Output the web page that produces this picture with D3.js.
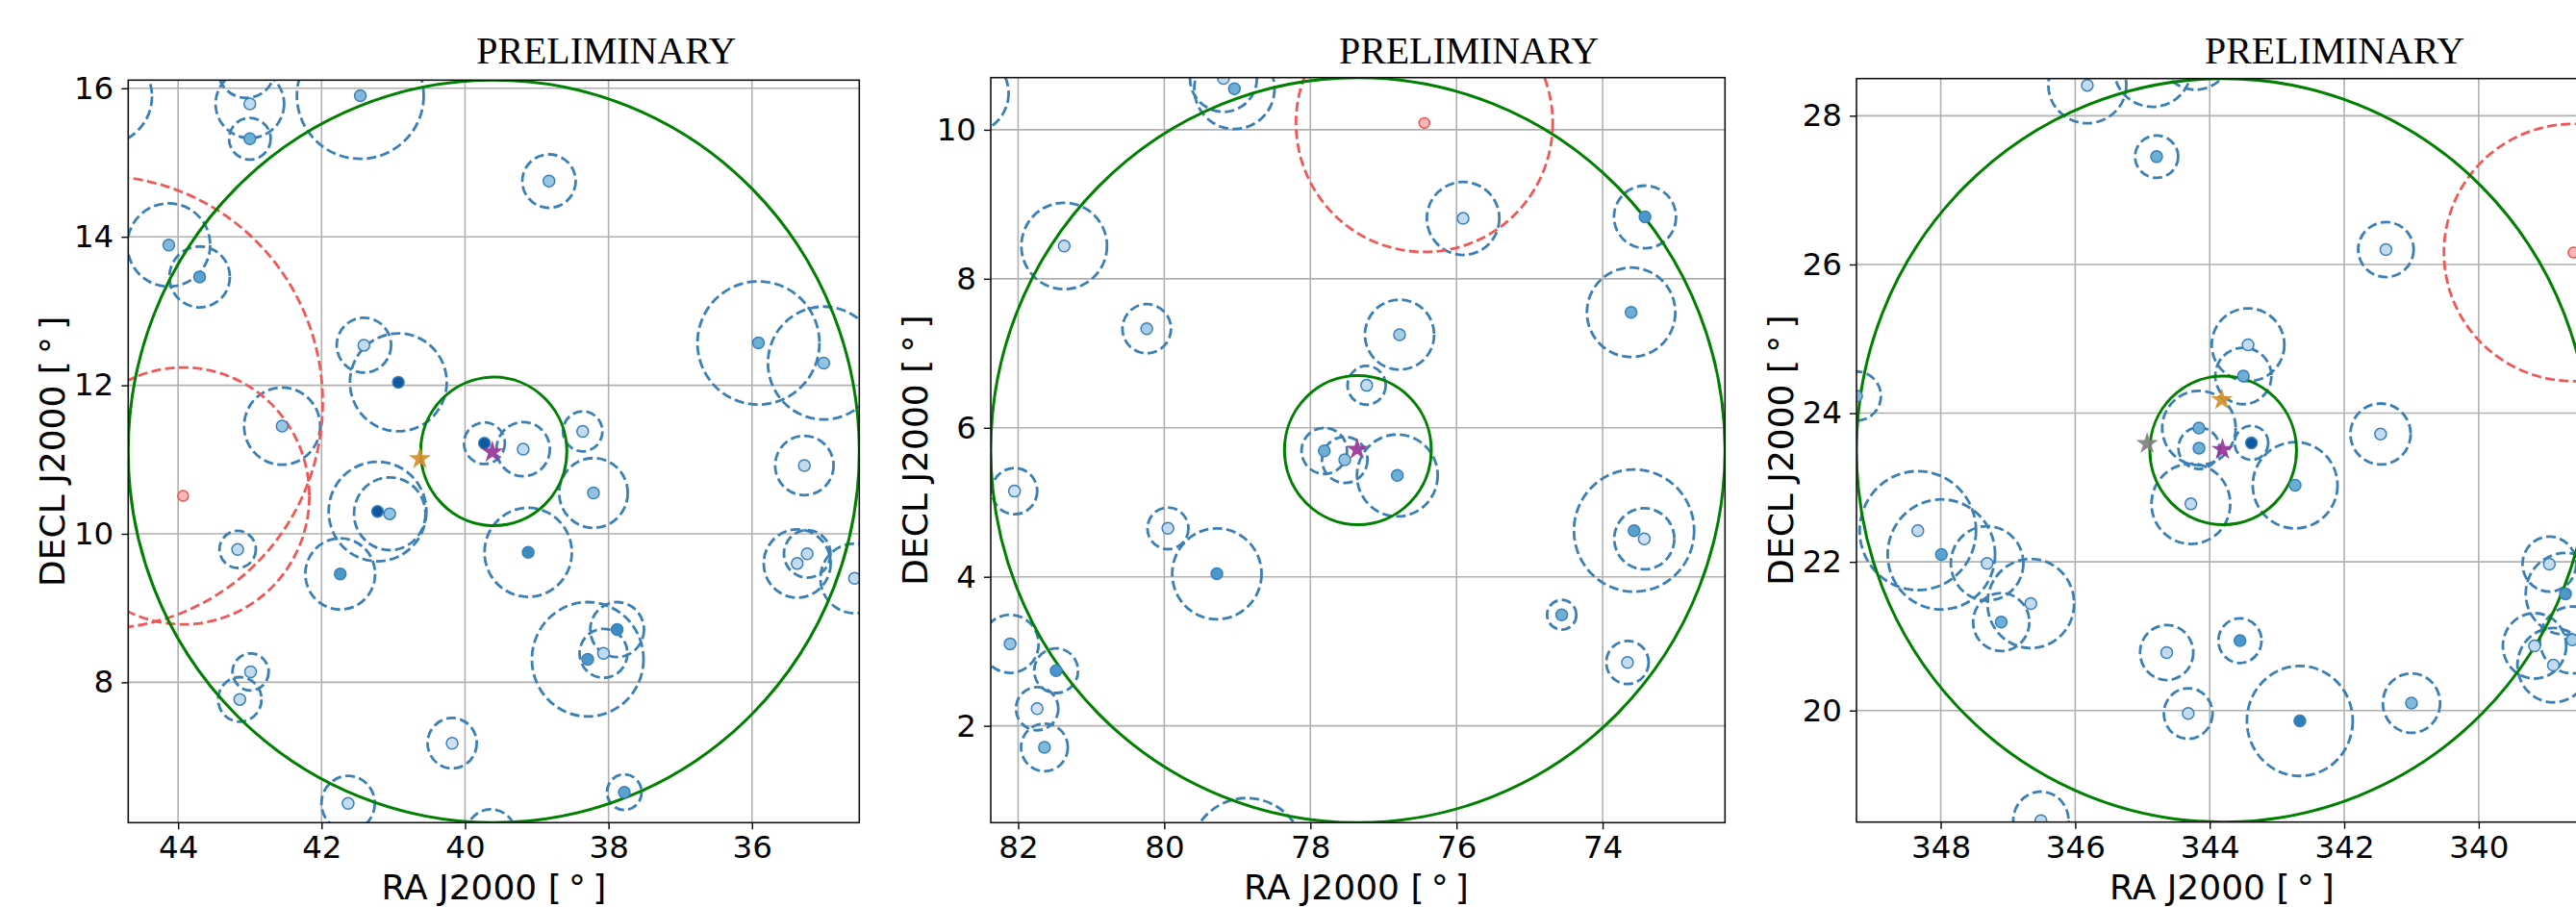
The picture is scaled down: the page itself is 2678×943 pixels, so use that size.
<!DOCTYPE html>
<html><head><meta charset="utf-8">
<script src="https://cdn.jsdelivr.net/npm/d3@7"></script>
<style>body{margin:0;background:#fff} svg{display:block}</style>
</head><body>
<svg id="chart" width="2678" height="943"></svg>
<script>
// ---------- data ----------
const fieldRA  = [39.60, 77.35, 343.80];
const fieldDec = [11.11, 5.70, 23.50];
const fieldRadius = 5;
const innerRadius = 1;
const titleText = "PRELIMINARY";
const xLabel = "RA J2000 [\u2009°\u2009]";
const yLabel = "DECL J2000 [\u2009°\u2009]";
const xTicks = [[44,42,40,38,36],[82,80,78,76,74],[348,346,344,342,340]];
const yTicks = [[8,10,12,14,16],[2,4,6,8,10],[20,22,24,26,28]];

// sources: [RA, Dec, error radius (deg), shade value 0..1]
const sources1 = [
  [45.04,15.89,0.65,0.40],[43.00,15.79,0.46,0.25],[43.00,15.32,0.28,0.50],[43.05,16.25,0.38,0.40],
  [41.46,15.90,0.85,0.45],[38.83,14.75,0.36,0.38],[44.13,13.89,0.56,0.45],[43.70,13.46,0.41,0.55],
  [41.41,12.54,0.37,0.25],[40.93,12.04,0.66,0.85],[42.55,11.45,0.52,0.38],[39.73,11.22,0.28,0.85],
  [39.19,11.14,0.365,0.25],[38.36,11.38,0.27,0.25],[38.21,10.55,0.47,0.40],[35.91,12.57,0.83,0.50],
  [35.00,12.30,0.76,0.40],[35.27,10.92,0.40,0.25],[35.37,9.60,0.46,0.25],[35.23,9.73,0.32,0.25],
  [34.57,9.40,0.47,0.25],[39.12,9.75,0.60,0.65],[41.22,10.30,0.67,0.85],[41.05,10.27,0.49,0.40],
  [41.74,9.46,0.48,0.60],[43.17,9.79,0.25,0.25],[42.99,8.14,0.25,0.25],[43.14,7.77,0.30,0.25],
  [37.88,8.71,0.37,0.65],[38.29,8.31,0.77,0.60],[38.07,8.39,0.33,0.25],[40.18,7.18,0.34,0.20],
  [37.78,6.52,0.24,0.55],[41.63,6.37,0.37,0.25],[39.64,5.94,0.35,0.40]
];
const sources2 = [
  [82.68,10.49,0.54,0.40],[79.19,10.69,0.45,0.25],[79.04,10.55,0.54,0.50],[75.91,8.81,0.49,0.25],
  [73.42,8.83,0.42,0.60],[81.37,8.44,0.58,0.25],[80.24,7.33,0.33,0.35],[76.78,7.25,0.47,0.35],
  [73.61,7.55,0.60,0.50],[77.23,6.57,0.26,0.25],[77.81,5.69,0.31,0.50],[77.53,5.57,0.31,0.40],
  [76.81,5.36,0.55,0.50],[82.05,5.15,0.31,0.20],[79.95,4.65,0.28,0.25],[79.28,4.04,0.61,0.60],
  [73.57,4.62,0.82,0.55],[73.43,4.51,0.41,0.20],[74.56,3.49,0.20,0.50],[73.66,2.85,0.29,0.25],
  [82.11,3.10,0.39,0.40],[81.48,2.74,0.30,0.60],[81.74,2.23,0.29,0.20],[81.64,1.71,0.32,0.45],
  [78.87,0.24,0.79,0.40]
];
const sources3 = [
  [345.82,28.41,0.51,0.25],[344.85,28.62,0.50,0.40],[344.21,28.80,0.45,0.40],[344.79,27.45,0.285,0.50],
  [341.38,26.20,0.37,0.25],[343.43,24.92,0.49,0.25],[343.50,24.50,0.38,0.50],[344.16,23.80,0.50,0.50],
  [344.16,23.53,0.28,0.50],[343.38,23.60,0.23,0.85],[344.28,22.78,0.54,0.25],[342.73,23.03,0.58,0.50],
  [341.46,23.72,0.41,0.25],[349.25,24.23,0.33,0.45],[348.34,22.42,0.80,0.25],[347.99,22.10,0.74,0.55],
  [347.31,21.98,0.50,0.25],[346.66,21.44,0.60,0.25],[347.10,21.19,0.39,0.50],[344.64,20.78,0.37,0.25],
  [343.55,20.94,0.30,0.60],[344.32,19.96,0.34,0.25],[342.66,19.86,0.74,0.70],[341.00,20.10,0.40,0.45],
  [346.51,18.52,0.39,0.25],[338.95,21.97,0.37,0.25],[338.71,21.57,0.55,0.60],[339.17,20.87,0.44,0.25],
  [338.89,20.61,0.50,0.25],[338.61,20.95,0.45,0.35]
];
// other catalogue (red): [RA, Dec, radius]
const red1 = [[43.93,10.51,1.73],[45.10,11.77,3.05]];
const red2 = [[76.44,10.09,1.73]];
const red3 = [[338.59,26.16,1.73]];
// stars: [RA, Dec, kind]
const stars1 = [[40.63,11.01,"alt"],[39.62,11.10,"target"]];
const stars2 = [[77.36,5.71,"target"]];
const stars3 = [[344.93,23.59,"other"],[343.82,24.18,"alt"],[343.81,23.51,"target"]];

const sourcesAll = [sources1, sources2, sources3];
const redAll = [red1, red2, red3];
const starsAll = [stars1, stars2, stars3];

// ---------- layout / style ----------
const panels = [
  {left:133.3, top:83.3, width:760, bottom:855.3},
  {left:1030, top:80.7, width:763.3, bottom:855.3},
  {left:1930, top:81.7, width:762.4, bottom:854.7}
];
const starColor = {target:"#993399", alt:"#d68f2b", other:"#808080"};
const shade = d3.scaleSequential(d3.interpolateBlues).domain([0,1]);
const svg = d3.select("#chart");
svg.append("rect").attr("width",2678).attr("height",943).attr("fill","#fff");
const deg = Math.PI/180;

panels.forEach((p, i) => {
  const ra0 = fieldRA[i], dec0 = fieldDec[i];
  const halfRA = fieldRadius/Math.cos(dec0*deg);
  const x = d3.scaleLinear().domain([ra0+halfRA, ra0-halfRA]).range([p.left, p.left+p.width]);
  const y = d3.scaleLinear().domain([dec0-fieldRadius, dec0+fieldRadius]).range([p.bottom, p.top]);
  const g = svg.append("g");
  const clipId = "clip"+i;
  svg.append("clipPath").attr("id",clipId).append("rect")
    .attr("x",p.left).attr("y",p.top).attr("width",p.width).attr("height",p.bottom-p.top);

  const grid = g.append("g").attr("clip-path",`url(#${clipId})`);
  grid.selectAll(".gx").data(xTicks[i]).enter().append("line")
    .attr("x1",d=>x(d)).attr("x2",d=>x(d)).attr("y1",p.top).attr("y2",p.bottom)
    .attr("stroke","#b0b0b0").attr("stroke-width",1.6);
  grid.selectAll(".gy").data(yTicks[i]).enter().append("line")
    .attr("y1",d=>y(d)).attr("y2",d=>y(d)).attr("x1",p.left).attr("x2",p.left+p.width)
    .attr("stroke","#b0b0b0").attr("stroke-width",1.6);

  const plot = g.append("g").attr("clip-path",`url(#${clipId})`);
  const ell = (sel, ra, dec, r) => sel
    .attr("cx", x(ra)).attr("cy", y(dec))
    .attr("rx", Math.abs(x(ra + r/Math.cos(dec*deg)) - x(ra)))
    .attr("ry", Math.abs(y(dec + r) - y(dec)));

  sourcesAll[i].forEach(s => {
    ell(plot.append("ellipse"), s[0], s[1], s[2])
      .attr("fill","none").attr("stroke","#3a7fb6").attr("stroke-width",2.8)
      .attr("stroke-dasharray","10,4.4");
  });
  redAll[i].forEach(s => {
    ell(plot.append("ellipse"), s[0], s[1], s[2])
      .attr("fill","none").attr("stroke","#f25757").attr("stroke-width",2.8)
      .attr("stroke-dasharray","10,4.4");
  });
  [fieldRadius, innerRadius].forEach(r => {
    ell(plot.append("ellipse"), ra0, dec0, r)
      .attr("fill","none").attr("stroke","#008000").attr("stroke-width",3);
  });
  sourcesAll[i].forEach(s => {
    plot.append("circle").attr("cx",x(s[0])).attr("cy",y(s[1])).attr("r",6)
      .attr("fill",shade(s[3])).attr("stroke","#3a80ba").attr("stroke-width",1.5);
  });
  redAll[i].forEach(s => {
    plot.append("circle").attr("cx",x(s[0])).attr("cy",y(s[1])).attr("r",5.5)
      .attr("fill","#f9b8b8").attr("stroke","#f05050").attr("stroke-width",1.5);
  });
  starsAll[i].forEach(s => {
    plot.append("path").attr("d", d3.symbol(d3.symbolStar).size(165)())
      .attr("transform",`translate(${x(s[0])},${y(s[1])})`)
      .attr("fill",starColor[s[2]]).attr("opacity",0.92);
  });

  const ax = g.append("g").attr("transform",`translate(0,${p.bottom})`)
    .call(d3.axisBottom(x).tickValues(xTicks[i]).tickSize(7).tickPadding(7).tickFormat(d3.format("d")));
  const ay = g.append("g").attr("transform",`translate(${p.left},0)`)
    .call(d3.axisLeft(y).tickValues(yTicks[i]).tickSize(7).tickPadding(8).tickFormat(d3.format("d")));
  [ax, ay].forEach(a => {
    a.select(".domain").remove();
    a.selectAll("line").attr("stroke","#000").attr("stroke-width",1.4);
    a.selectAll("text").attr("font-family","DejaVu Sans").attr("font-size",32.5).attr("fill","#000");
  });
  g.append("rect").attr("x",p.left).attr("y",p.top).attr("width",p.width).attr("height",p.bottom-p.top)
    .attr("fill","none").attr("stroke","#111").attr("stroke-width",1.6);

  g.append("text").attr("x",p.left+380).attr("y",935).attr("text-anchor","middle")
    .attr("font-family","DejaVu Sans").attr("font-size",36).text(xLabel);
  g.append("text").attr("transform",`translate(${p.left-66},${(p.top+p.bottom)/2}) rotate(-90)`)
    .attr("text-anchor","middle").attr("font-family","DejaVu Sans").attr("font-size",36).text(yLabel);
  g.append("text").attr("x",p.left+497).attr("y",66).attr("text-anchor","middle")
    .attr("font-family","Liberation Serif").attr("font-size",40)
    .attr("textLength",270).attr("lengthAdjust","spacingAndGlyphs").text(titleText);
});
</script>
</body></html>
